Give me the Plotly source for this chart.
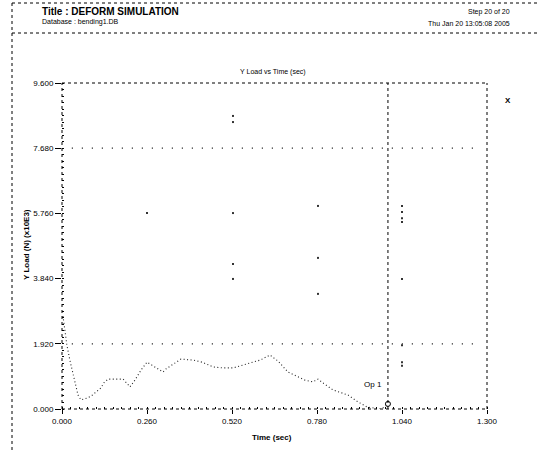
import plotly.graph_objects as go

# ---- data ----
time_s = [0.003, 0.009, 0.015, 0.024, 0.037, 0.049, 0.058, 0.076, 0.089, 0.119, 0.128, 0.141,
          0.187, 0.208, 0.223, 0.242, 0.260, 0.284, 0.309, 0.318, 0.346, 0.364, 0.401, 0.428,
          0.462, 0.492, 0.523, 0.554, 0.584, 0.606, 0.636, 0.661, 0.691, 0.722, 0.743, 0.768,
          0.783, 0.798, 0.829, 0.875, 0.905, 0.933, 0.973, 0.988, 0.997]
y_load = [2.74, 2.33, 1.88, 1.44, 0.91, 0.41, 0.27, 0.32, 0.38, 0.62, 0.77, 0.88,
          0.88, 0.65, 0.85, 1.15, 1.38, 1.24, 1.09, 1.18, 1.35, 1.47, 1.44, 1.38,
          1.24, 1.21, 1.21, 1.30, 1.38, 1.44, 1.59, 1.41, 1.09, 0.94, 0.85, 0.80,
          0.88, 0.77, 0.56, 0.41, 0.21, 0.06, 0.00, 0.06, 0.15]

stray_t = [0.523, 0.523, 0.260, 0.523, 0.783, 0.523, 0.523, 0.783, 0.783,
           1.040, 1.040, 1.040, 1.040, 1.040, 1.040, 1.040, 1.040]
stray_v = [8.63, 8.45, 5.77, 5.77, 5.98, 4.27, 3.83, 4.45, 3.39,
           5.98, 5.80, 5.62, 5.51, 3.83, 1.88, 1.38, 1.27]

ref_rows = [7.68, 1.92]
current_time = 0.997
op_label = "Op 1"

y_ticks = [0.0, 1.92, 3.84, 5.76, 7.68, 9.60]
x_ticks = [0.0, 0.26, 0.52, 0.78, 1.04, 1.30]
y_ticktext = ["0.000", "1.920", "3.840", "5.760", "7.680", "9.600"]
x_ticktext = ["0.000", "0.260", "0.520", "0.780", "1.040", "1.300"]

title_text = "Title : DEFORM SIMULATION"
db_text = "Database : bending1.DB"
step_text = "Step 20 of 20"
date_text = "Thu Jan 20 13:05:08 2005"

# ---- figure ----
W, H = 538, 452
L, T = 62, 83
R = W - 487
B = H - 409
PW, PH = W - L - R, H - T - B


def px(x):  # screen px -> paper
    return (x - L) / PW


def py(y):
    return (H - B - y) / PH


FONT = "Liberation Sans, Arial, sans-serif"

fig = go.Figure()

for v in ref_rows:
    fig.add_trace(go.Scatter(x=[0.03, 1.26], y=[v, v], mode="lines",
                             line=dict(color="black", width=1.2, dash="1px,9px"),
                             hoverinfo="skip", showlegend=False))

fig.add_trace(go.Scatter(x=stray_t, y=stray_v, mode="markers",
                         marker=dict(color="#333", size=2, symbol="square"),
                         showlegend=False, hoverinfo="skip"))

fig.add_trace(go.Scatter(x=time_s, y=y_load, mode="lines",
                         line=dict(color="#222", width=1.1, dash="1px,2.5px"),
                         showlegend=False))

fig.add_trace(go.Scatter(x=[time_s[-1]], y=[y_load[-1]], mode="markers",
                         marker=dict(color="white", size=5, symbol="circle",
                                     line=dict(color="black", width=1)),
                         showlegend=False))

shapes = []
dot = dict(color="black", width=1, dash="dot")
shapes.append(dict(type="line", xref="paper", yref="paper", x0=0, x1=0, y0=0, y1=1, line=dot))
shapes.append(dict(type="line", xref="paper", yref="paper", x0=0, x1=1, y0=0, y1=0, line=dot))
shapes.append(dict(type="line", xref="paper", yref="paper", x0=0, x1=1, y0=1, y1=1, line=dot))
shapes.append(dict(type="line", xref="paper", yref="paper", x0=1, x1=1, y0=0, y1=1, line=dot))
shapes.append(dict(type="line", xref="x", yref="paper", x0=current_time, x1=current_time,
                   y0=0, y1=1, line=dot))
shapes.append(dict(type="line", xref="paper", yref="paper", x0=px(12), x1=px(12),
                   y0=py(3), y1=py(452), line=dot))
shapes.append(dict(type="line", xref="paper", yref="paper", x0=px(12), x1=px(537),
                   y0=py(3), y1=py(3), line=dot))
shapes.append(dict(type="line", xref="paper", yref="paper", x0=px(12), x1=px(537),
                   y0=py(33), y1=py(33), line=dot))

ann = []


def add(x, y, text, size=7, xanchor="center", angle=0):
    ann.append(dict(x=px(x), y=py(y), xref="paper", yref="paper", text=text,
                    showarrow=False, xanchor=xanchor, yanchor="middle", textangle=angle,
                    font=dict(family=FONT, size=size, color="black")))


add(40, 12, f"<b>{title_text}</b>", 10, "left")
add(40, 22, db_text, 7, "left")
add(512, 12, step_text, 7, "right")
add(512, 24, date_text, 7, "right")
add(273, 72, "Y Load vs Time (sec)", 7)
add(508, 100, "<b>X</b>", 8)
add(373, 384, op_label, 8)
add(272, 437, "<b>Time (sec)</b>", 8)
add(26, 245, "<b>Y Load (N) (x10E3)</b>", 8, "center", -90)

fig.update_layout(
    width=W, height=H,
    margin=dict(l=L, r=R, t=T, b=B, pad=0),
    paper_bgcolor="white", plot_bgcolor="white",
    shapes=shapes, annotations=ann, showlegend=False,
    font=dict(family=FONT, size=8, color="black"),
    xaxis=dict(range=[0, 1.3], tickvals=x_ticks, ticktext=x_ticktext,
               showgrid=False, zeroline=False, showline=False,
               ticks="outside", ticklen=4, tickcolor="black", tickwidth=1,
               minor=dict(dtick=0.026, ticks="inside", ticklen=2, tickcolor="black", showgrid=False),
               tickfont=dict(family=FONT, size=8, color="black")),
    yaxis=dict(range=[0, 9.6], tickvals=y_ticks, ticktext=y_ticktext,
               showgrid=False, zeroline=False, showline=False,
               ticks="outside", ticklen=6, tickcolor="black", tickwidth=1,
               minor=dict(dtick=0.192, ticks="inside", ticklen=2, tickcolor="black", showgrid=False),
               tickfont=dict(family=FONT, size=8, color="black")),
)

fig.write_html("out.html", config={"displayModeBar": False},
               post_script="document.body.style.margin='0';document.body.style.overflow='hidden';")
